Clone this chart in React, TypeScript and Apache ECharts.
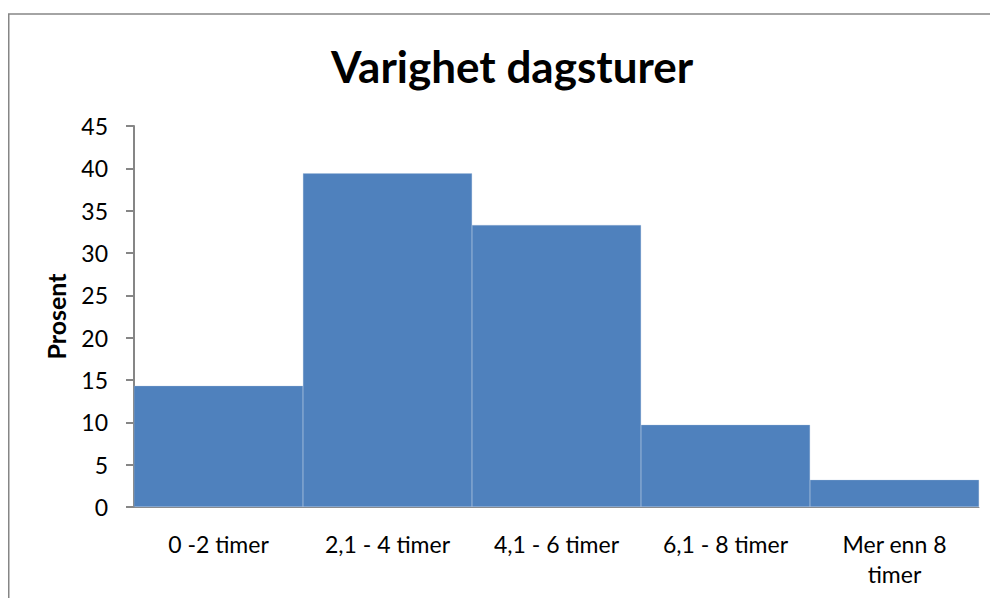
import React, { useEffect, useRef } from "react";
import * as echarts from "echarts";

const categories = ["0 -2 timer", "2,1 - 4 timer", "4,1 - 6 timer", "6,1 - 8 timer", "Mer enn 8\ntimer"];
const values = [14.3, 39.4, 33.3, 9.7, 3.2];
const titleText = "Varighet dagsturer";
const yAxisName = "Prosent";

export default function App() {
  const ref = useRef<HTMLDivElement>(null);
  useEffect(() => {
    if (!ref.current) return;
    const chart = echarts.init(ref.current, undefined, { renderer: "svg" });
    const font = "Lato";
    chart.setOption({
      animation: false,
      backgroundColor: "#ffffff",
      title: {
        text: titleText,
        left: 499,
        top: 31,
        textAlign: "center",
        textStyle: { fontFamily: font, fontSize: 44, fontWeight: "bold", color: "#000000" },
      },
      graphic: [
        {
          type: "rect",
          shape: { x: 0.75, y: 6, width: 1200, height: 1000 },
          style: { fill: "none", stroke: "#868686", lineWidth: 1.5 },
          z: 100,
        },
      ],
      grid: { left: 126, right: 19, top: 118, bottom: 91, containLabel: false },
      xAxis: {
        type: "category",
        data: categories,
        axisLine: { show: true, lineStyle: { color: "#868686", width: 1 } },
        axisTick: { show: false },
        axisLabel: { fontFamily: font, fontSize: 23, color: "#000000", margin: 22, lineHeight: 30, interval: 0 },
      },
      yAxis: {
        type: "value",
        min: 0,
        max: 45,
        interval: 5,
        name: yAxisName,
        nameLocation: "middle",
        nameGap: 66,
        nameRotate: 90,
        nameTextStyle: { fontFamily: font, fontSize: 25, fontWeight: "bold", color: "#000000" },
        axisLine: { show: true, lineStyle: { color: "#868686", width: 2 } },
        axisTick: { show: true, length: 8, lineStyle: { color: "#868686", width: 2 } },
        splitLine: { show: false },
        axisLabel: { fontFamily: font, fontSize: 23, color: "#000000", margin: 26 },
      },
      series: [
        {
          type: "bar",
          data: values,
          barCategoryGap: "0%",
          itemStyle: { color: "#4F81BD", borderColor: "#A7BFDE", borderWidth: 0.3 },
        },
      ],
    });
    return () => chart.dispose();
  }, []);
  return <div ref={ref} style={{ width: 990, height: 590 }} />;
}
